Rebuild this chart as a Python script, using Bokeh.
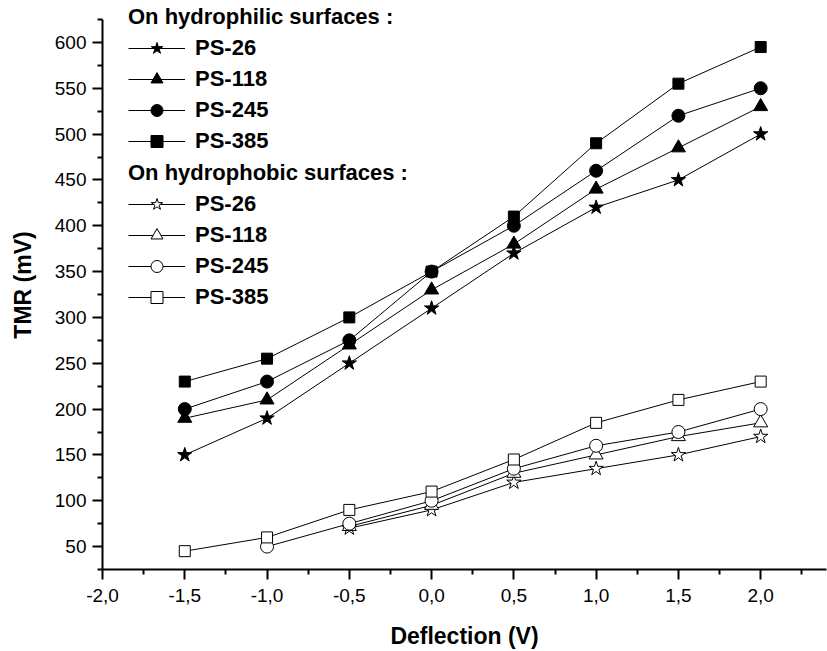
from bokeh.plotting import figure
from bokeh.models import (Range1d, FixedTicker, CustomJSTickFormatter, Legend, LegendItem)
from bokeh.embed import file_html
from bokeh.resources import INLINE

# ---- data ----
x_phil = [-1.5, -1.0, -0.5, 0.0, 0.5, 1.0, 1.5, 2.0]
phil_ps26 = [150, 190, 250, 310, 370, 420, 450, 500]
phil_ps118 = [190, 210, 270, 330, 380, 440, 485, 530]
phil_ps245 = [200, 230, 275, 350, 400, 460, 520, 550]
phil_ps385 = [230, 255, 300, 350, 410, 490, 555, 595]

x_phob_ps26 = [-0.5, 0.0, 0.5, 1.0, 1.5, 2.0]
phob_ps26 = [70, 90, 120, 135, 150, 170]
x_phob_ps118 = [-0.5, 0.0, 0.5, 1.0, 1.5, 2.0]
phob_ps118 = [72, 95, 130, 150, 170, 185]
x_phob_ps245 = [-1.0, -0.5, 0.0, 0.5, 1.0, 1.5, 2.0]
phob_ps245 = [50, 75, 100, 135, 160, 175, 200]
x_phob_ps385 = [-1.5, -1.0, -0.5, 0.0, 0.5, 1.0, 1.5, 2.0]
phob_ps385 = [45, 60, 90, 110, 145, 185, 210, 230]

labels = ["PS-26", "PS-118", "PS-245", "PS-385"]
x_major = [-2.0, -1.5, -1.0, -0.5, 0.0, 0.5, 1.0, 1.5, 2.0]
x_minor = [-1.75, -1.25, -0.75, -0.25, 0.25, 0.75, 1.25, 1.75, 2.25]
y_major = [50, 100, 150, 200, 250, 300, 350, 400, 450, 500, 550, 600]
y_minor = [25, 75, 125, 175, 225, 275, 325, 375, 425, 475, 525, 575, 625]

FONT = "Liberation Sans"

# frame spans the full top so the legend title is not clipped; the axis itself stops at 625
y_top = 625 + 19 * (600 / 550)

p = figure(width=827, height=651, output_backend="svg", toolbar_location=None,
           x_range=Range1d(-2.0, 2.4), y_range=Range1d(25, y_top),
           min_border_left=102, min_border_right=1, min_border_top=0, min_border_bottom=82)
p.outline_line_color = None
p.grid.visible = False
p.background_fill_color = "white"
p.border_fill_color = "white"

p.xaxis.ticker = FixedTicker(ticks=x_major, minor_ticks=x_minor)
p.yaxis.ticker = FixedTicker(ticks=y_major, minor_ticks=y_minor)
p.yaxis.bounds = (25, 625)
p.xaxis.formatter = CustomJSTickFormatter(code="return tick.toFixed(1).replace('.', ',');")
p.xaxis.axis_label = "Deflection (V)"
p.yaxis.axis_label = "TMR (mV)"

for ax in (p.xaxis[0], p.yaxis[0]):
    ax.axis_line_width = 2
    ax.axis_line_color = "black"
    ax.major_tick_line_width = 2
    ax.minor_tick_line_width = 2
    ax.major_tick_line_color = "black"
    ax.minor_tick_line_color = "black"
    ax.major_tick_out = 10
    ax.major_tick_in = 0
    ax.minor_tick_out = 5
    ax.minor_tick_in = 0
    ax.major_label_text_font = FONT
    ax.major_label_text_font_size = "19px"
    ax.major_label_text_color = "black"
    ax.axis_label_text_font = FONT
    ax.axis_label_text_font_size = "23px"
    ax.axis_label_text_font_style = "bold"
    ax.axis_label_text_color = "black"
p.xaxis.major_label_standoff = 9
p.xaxis.axis_label_standoff = 18
p.yaxis.major_label_standoff = 6
p.yaxis.axis_label_standoff = 16

markers = ["star", "triangle", "circle", "square"]
sizes = [15, 14, 13, 11]

phil_series = [phil_ps26, phil_ps118, phil_ps245, phil_ps385]
phob_x = [x_phob_ps26, x_phob_ps118, x_phob_ps245, x_phob_ps385]
phob_series = [phob_ps26, phob_ps118, phob_ps245, phob_ps385]

items1 = []
for ys, m, s, lab in zip(phil_series, markers, sizes, labels):
    l = p.line(x_phil, ys, line_color="black", line_width=1)
    sc = p.scatter(x_phil, ys, marker=m, size=s, fill_color="black", line_color="black")
    items1.append(LegendItem(label=lab, renderers=[l, sc]))

items2 = []
for xs, ys, m, s, lab in zip(phob_x, phob_series, markers, sizes, labels):
    l = p.line(xs, ys, line_color="black", line_width=1)
    sc = p.scatter(xs, ys, marker=m, size=s, fill_color="white", line_color="black", line_width=1)
    items2.append(LegendItem(label=lab, renderers=[l, sc]))


def make_legend(items, title, loc):
    lg = Legend(items=items, title=title, location=loc)
    lg.padding = 0
    lg.margin = 0
    lg.border_line_color = None
    lg.background_fill_alpha = 0
    lg.glyph_width = 57
    lg.glyph_height = 30
    lg.label_height = 30
    lg.spacing = 1
    lg.label_standoff = 10
    lg.label_text_font = FONT
    lg.label_text_font_size = "22px"
    lg.label_text_font_style = "bold"
    lg.label_text_color = "black"
    lg.title_text_font = FONT
    lg.title_text_font_size = "22px"
    lg.title_text_font_style = "bold"
    lg.title_text_color = "black"
    lg.title_standoff = 3
    return lg


p.add_layout(make_legend(items1, "On hydrophilic surfaces :", (26, 413)), "center")
p.add_layout(make_legend(items2, "On hydrophobic surfaces :", (26, 257)), "center")

open("out.html", "w").write(file_html(p, INLINE))
